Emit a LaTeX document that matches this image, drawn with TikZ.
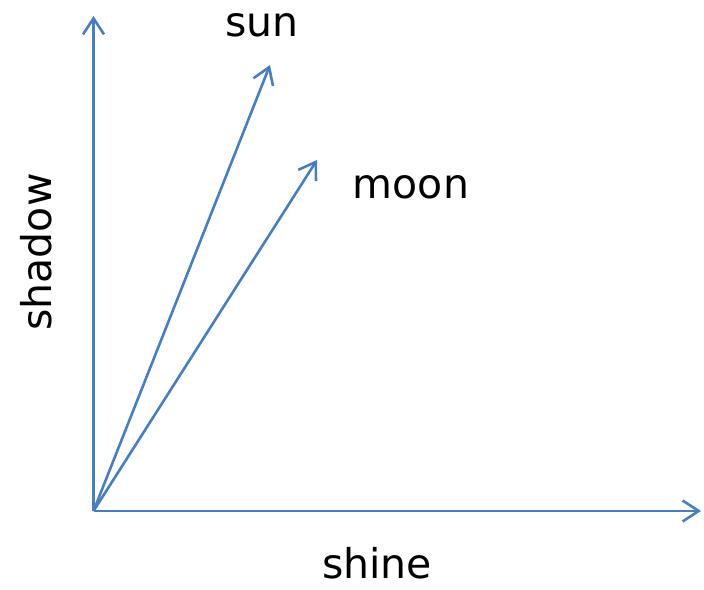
\documentclass[tikz,border=0pt]{standalone}
\usepackage{fontspec}
\setmainfont{DejaVu Sans}
\usepackage{xcolor}
\usepackage{tikz}
\usetikzlibrary{arrows.meta}

\definecolor{vecblue}{HTML}{4A7EBB}

\begin{document}
\begin{tikzpicture}[
x=1pt, y=-1pt,
vec/.style={draw=vecblue, line width=2.6pt, -{Straight Barb[length=16pt, width=21pt, line width=2.6pt]}},
word/.style={font=\fontsize{41}{46}\selectfont, inner sep=0pt}
]
\useasboundingbox (0,0) rectangle (704,589);
\coordinate (o) at (93.5,511);
\coordinate (xend) at (701,511);
\coordinate (yend) at (93.5,16);
\coordinate (suntip) at (270,65);
\coordinate (moontip) at (317,160);
\draw[vec] (o) -- (xend);
\draw[vec] (o) -- (yend);
\draw[vec] (o) -- (suntip);
\draw[vec] (o) -- (moontip);
\node[word] (sun) at (262,25.5) {sun};
\node[word] (moon) at (411,187.5) {moon};
\node[word] (shine) at (377,563.5) {shine};
\node[word, rotate=90] (shadow) at (36,252) {shadow};
\end{tikzpicture}
\end{document}
